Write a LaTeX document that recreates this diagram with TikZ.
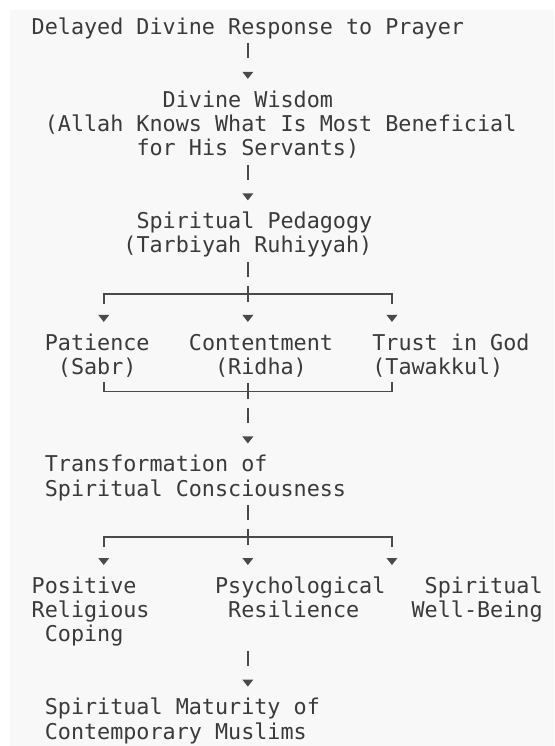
\documentclass[tikz,border=0pt]{standalone}
\usepackage{fontspec}
\newfontfamily\monofont{DejaVu Sans Mono}
\definecolor{txt}{HTML}{3A3A3A}
\definecolor{bgc}{HTML}{F8F8F8}
\definecolor{lnc}{HTML}{4A4A4A}
\tikzset{
  lbl/.style={anchor=base west, inner sep=0pt, outer sep=0pt, text=txt,
    font=\monofont\fontsize{21.76pt}{24pt}\selectfont},
  vbar/.style={draw=lnc, line width=1.8pt},
  hrule/.style={draw=lnc, line width=1.5pt},
  tipfill/.style={fill=lnc},
}
\newcommand{\downtri}[1]{\fill[tipfill] (#1) ++(-5.5pt,3.5pt) -- ++(11pt,0pt) -- ++(-5.5pt,-7pt) -- cycle;}
\begin{document}
\begin{tikzpicture}[x=13.1pt,y=-24.31pt]
\useasboundingbox (-2.420,-1.098) rectangle (39.870,29.589);
\fill[bgc] (-1.656,-0.687) rectangle (39.870,29.589);

% ---- text nodes (col, row + baseline offset)
\def\bo{0.309}
\node[lbl] (delayed)  at (0,0+\bo)  {Delayed Divine Response to Prayer};
\node[lbl] (wisdomA)  at (10,3+\bo) {Divine Wisdom};
\node[lbl] (wisdomB)  at (1,4+\bo)  {(Allah Knows What Is Most Beneficial};
\node[lbl] (wisdomC)  at (8,5+\bo)  {for His Servants)};
\node[lbl] (pedA)     at (8,8+\bo)  {Spiritual Pedagogy};
\node[lbl] (pedB)     at (7,9+\bo)  {(Tarbiyah Ruhiyyah)};
\node[lbl] (patA)     at (1,13+\bo) {Patience};
\node[lbl] (patB)     at (2,14+\bo) {(Sabr)};
\node[lbl] (conA)     at (12,13+\bo){Contentment};
\node[lbl] (conB)     at (14,14+\bo){(Ridha)};
\node[lbl] (truA)     at (26,13+\bo){Trust in God};
\node[lbl] (truB)     at (26,14+\bo){(Tawakkul)};
\node[lbl] (trfA)     at (1,18+\bo) {Transformation of};
\node[lbl] (trfB)     at (1,19+\bo) {Spiritual Consciousness};
\node[lbl] (posA)     at (0,23+\bo) {Positive};
\node[lbl] (posB)     at (0,24+\bo) {Religious};
\node[lbl] (posC)     at (1,25+\bo) {Coping};
\node[lbl] (psyA)     at (14,23+\bo){Psychological};
\node[lbl] (psyB)     at (15,24+\bo){Resilience};
\node[lbl] (spiA)     at (30,23+\bo){Spiritual};
\node[lbl] (spiB)     at (29,24+\bo){Well-Being};
\node[lbl] (matA)     at (1,28+\bo) {Spiritual Maturity of};
\node[lbl] (matB)     at (1,29+\bo) {Contemporary Muslims};

% ---- junction coordinates
\foreach \r in {1,6,10,16,20,26} \coordinate (bar\r) at (16.5,\r);
\foreach \r in {2,7,17,27} \coordinate (tip\r) at (16.5,\r);
\foreach \r in {12,22} {
  \coordinate (tipL\r) at (5.5,\r);
  \coordinate (tipM\r) at (16.5,\r);
  \coordinate (tipR\r) at (27.5,\r);
}
\foreach \r in {11,15,21} {
  \coordinate (brL\r) at (5.5,\r);
  \coordinate (brM\r) at (16.5,\r);
  \coordinate (brR\r) at (27.5,\r);
}

% ---- vertical bars
\foreach \r in {1,6,10,16,20,26}
  \draw[vbar] (bar\r) ++(0,7.5pt) -- ++(0,-15pt);

% ---- arrow heads
\foreach \r in {2,7,17,27} {\downtri{tip\r}}
\foreach \r in {12,22} {\downtri{tipL\r} \downtri{tipM\r} \downtri{tipR\r}}

% ---- branch rules (split)
\foreach \r in {11,21} {
  \draw[hrule] (brL\r) ++(0,-10pt) -- (brL\r) -- (brR\r) -- ++(0,-10pt);
  \draw[vbar] (brM\r) ++(0,8pt) -- ++(0,-16pt);
}
% ---- merge rule
\draw[hrule] (brL15) ++(0,9pt) -- (brL15) -- (brR15) -- ++(0,9pt);
\draw[vbar] (brM15) ++(0,8pt) -- ++(0,-16pt);
\end{tikzpicture}
\end{document}
